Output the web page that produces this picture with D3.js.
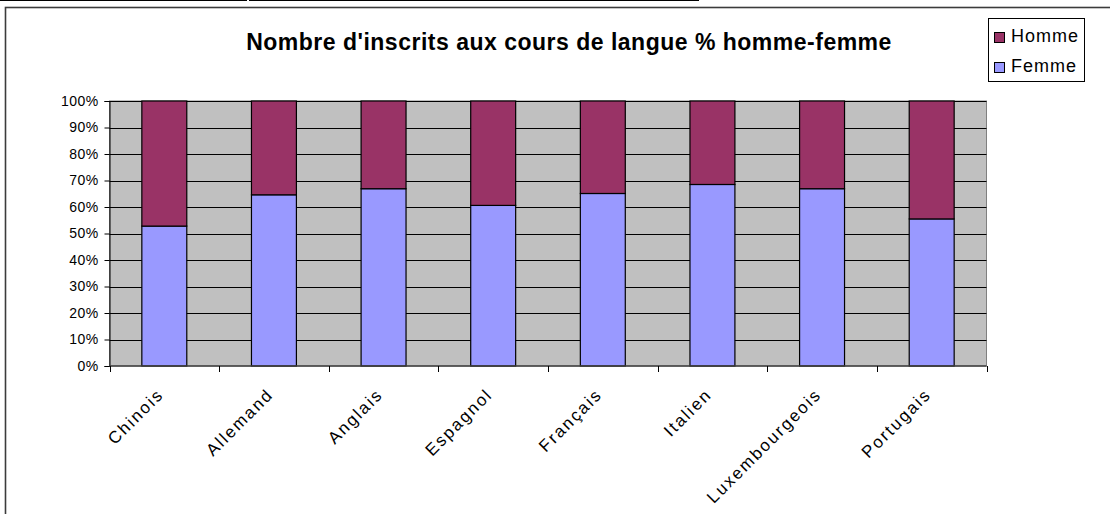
<!DOCTYPE html>
<html>
<head>
<meta charset="utf-8">
<script src="https://cdn.jsdelivr.net/npm/d3@7"></script>
<style>
  body { margin: 0; background: #ffffff; }
  svg { display: block; font-family: "Liberation Sans", Arial, sans-serif; }
</style>
</head>
<body>
<div id="chart"></div>
<script>

var languages = ["Chinois", "Allemand", "Anglais", "Espagnol", "Français", "Italien", "Luxembourgeois", "Portugais"];
var femme = [52.8, 64.6, 66.9, 60.6, 65.1, 68.5, 66.9, 55.5];
var homme = [47.2, 35.4, 33.1, 39.4, 34.9, 31.5, 33.1, 44.5];
var yTicks = [0, 10, 20, 30, 40, 50, 60, 70, 80, 90, 100];

var width = 1110;
var height = 514;
var plot = { left: 109.5, right: 986.5, top: 101, bottom: 366 };

var svg = d3.select("#chart").append("svg")
    .attr("width", width)
    .attr("height", height);

// Page lines above the chart frame :
svg.append("line").attr("x1", 0).attr("x2", 247).attr("y1", 0.5).attr("y2", 0.5)
   .style("stroke", "#000").style("stroke-width", 1);
svg.append("line").attr("x1", 249).attr("x2", 699).attr("y1", 0.5).attr("y2", 0.5)
   .style("stroke", "#000").style("stroke-width", 1);

// Chart frame (runs off the right and bottom of the page) :
svg.append("rect")
   .attr("x", 5.5).attr("y", 7.5)
   .attr("width", width + 20).attr("height", height + 20)
   .style("fill", "#ffffff")
   .style("stroke", "#3c3c3c")
   .style("stroke-width", 1.6);

// Scales :
var x = d3.scaleBand()
    .domain(languages)
    .range([plot.left, plot.right])
    .paddingInner(0.59)
    .paddingOuter(0.295);

var xStep = (plot.right - plot.left) / languages.length;

var y = d3.scaleLinear()
    .domain([0, 100])
    .range([plot.bottom, plot.top]);

// Plot background :
svg.append("rect")
   .attr("x", plot.left).attr("y", plot.top)
   .attr("width", plot.right - plot.left).attr("height", plot.bottom - plot.top)
   .style("fill", "#c0c0c0")
   .style("stroke", "#808080")
   .style("stroke-width", 1);

// Gridlines :
svg.append("g").selectAll("line")
   .data(yTicks.filter(function(d) { return d > 0; }))
   .enter().append("line")
   .attr("x1", plot.left).attr("x2", plot.right)
   .attr("y1", function(d) { return Math.round(y(d)) + 0.5; })
   .attr("y2", function(d) { return Math.round(y(d)) + 0.5; })
   .style("stroke", "#000")
   .style("stroke-width", 1);

// Stacked bars :
var rows = languages.map(function(l, i) { return { lang: l, femme: femme[i], homme: homme[i] }; });

svg.append("g").selectAll("rect")
   .data(rows)
   .enter().append("rect")
   .attr("x", function(d) { return x(d.lang); })
   .attr("width", x.bandwidth())
   .attr("y", function(d) { return y(d.femme); })
   .attr("height", function(d) { return y(0) - y(d.femme); })
   .style("fill", "#9999ff")
   .style("stroke", "#000")
   .style("stroke-width", 1.2);

svg.append("g").selectAll("rect")
   .data(rows)
   .enter().append("rect")
   .attr("x", function(d) { return x(d.lang); })
   .attr("width", x.bandwidth())
   .attr("y", function(d) { return y(d.femme + d.homme); })
   .attr("height", function(d) { return y(d.femme) - y(d.femme + d.homme); })
   .style("fill", "#993366")
   .style("stroke", "#000")
   .style("stroke-width", 1.2);

// Y axis :
var yAxis = svg.append("g")
    .attr("transform", "translate(" + plot.left + ",0)")
    .call(d3.axisLeft(y).tickValues(yTicks).tickSize(5).tickPadding(6)
            .tickFormat(function(d) { return d + "%"; }));
yAxis.select(".domain").style("stroke", "#000");
yAxis.selectAll("text").style("font-size", "14px").style("fill", "#000")
     .style("letter-spacing", "0.4px")
     .style("font-family", "'Liberation Sans', Arial, sans-serif");

// X axis : ticks sit between the categories
var xAxisG = svg.append("g").attr("transform", "translate(0," + plot.bottom + ")");
xAxisG.append("line")
   .attr("x1", plot.left).attr("x2", plot.right)
   .style("stroke", "#404040").style("stroke-width", 1.5);
xAxisG.selectAll(".tick")
   .data(d3.range(languages.length + 1))
   .enter().append("line")
   .attr("x1", function(i) { return Math.round(plot.left + i * xStep) + 0.5; })
   .attr("x2", function(i) { return Math.round(plot.left + i * xStep) + 0.5; })
   .attr("y1", 0).attr("y2", 6)
   .style("stroke", "#000");

// Rotated category labels :
xAxisG.selectAll("text")
   .data(languages)
   .enter().append("text")
   .attr("transform", function(d) {
     return "translate(" + (x(d) + x.bandwidth() / 2 - 1) + ",31) rotate(-45)";
   })
   .attr("text-anchor", "end")
   .attr("dx", "2px")
   .style("font-size", "17px")
   .style("letter-spacing", "2px")
   .text(function(d) { return d; });

// Title :
svg.append("text")
   .attr("x", 569)
   .attr("y", 50)
   .attr("text-anchor", "middle")
   .style("font-size", "23px")
   .style("font-weight", "bold")
   .style("letter-spacing", "0.5px")
   .text("Nombre d'inscrits aux cours de langue % homme-femme");

// Legend :
var legend = svg.append("g");
legend.append("rect")
   .attr("x", 988.5).attr("y", 18.5).attr("width", 96).attr("height", 63)
   .style("fill", "#fff").style("stroke", "#000").style("stroke-width", 1);

var legendItems = [
  { name: "Homme", color: "#993366" },
  { name: "Femme", color: "#9999ff" }
];

var item = legend.selectAll(".item")
   .data(legendItems)
   .enter().append("g")
   .attr("transform", function(d, i) { return "translate(994," + (32 + i * 30) + ")"; });

item.append("rect")
   .attr("x", 0.5).attr("y", 0.5).attr("width", 10).attr("height", 10)
   .style("fill", function(d) { return d.color; })
   .style("stroke", "#000");

item.append("text")
   .attr("x", 17).attr("y", 10)
   .style("font-size", "18px")
   .style("letter-spacing", "1px")
   .text(function(d) { return d.name; });

</script>
</body>
</html>
